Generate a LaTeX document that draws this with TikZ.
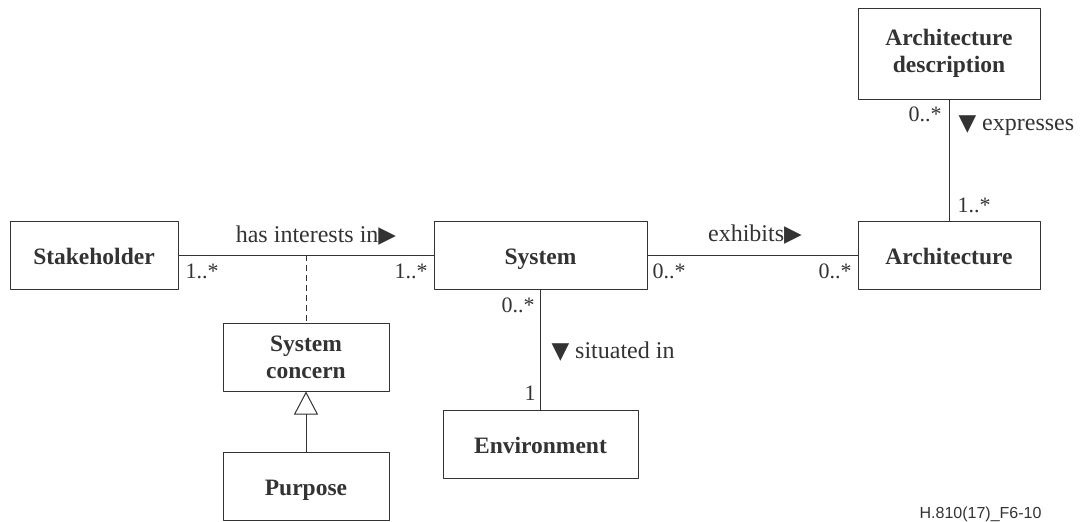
\documentclass[tikz,border=0pt]{standalone}
\usepackage{fontspec}
\setmainfont{Liberation Serif}
\newfontfamily\symfont{DejaVu Sans}
\newfontfamily\tagfont{Liberation Sans}
\usetikzlibrary{arrows.meta}
\definecolor{ink}{gray}{0.2}
\newcommand{\tri}[1]{{\symfont\fontsize{23}{23}\selectfont #1}}
\begin{document}
\begin{tikzpicture}[x=1pt,y=-1pt,line join=round,line width=1pt,draw=ink,text=ink]
    \tikzset{box/.style={draw,fill=white,align=center,inner sep=0pt,
            font=\fontsize{23.5}{27}\selectfont\bfseries,minimum height=68pt},
        oneline/.style={text height=19pt,text depth=1pt},
        mult/.style={inner sep=0pt,font=\fontsize{22}{22}\selectfont},
        assoc/.style={inner sep=0pt,font=\fontsize{24}{24}\selectfont}}
    \useasboundingbox (0,0) rectangle (1082,522);
    % classes
    \node[box,oneline,minimum width=168pt] (stake) at (94,255) {Stakeholder};
    \node[box,oneline,minimum width=213pt] (sys) at (540.5,255) {System};
    \node[box,oneline,minimum width=182pt] (arch) at (949,255) {Architecture};
    \node[box,minimum width=182pt,minimum height=91pt] (archdesc) at (949,53.5) {Architecture\\description};
    \node[box,minimum width=166pt] (concern) at (306,357) {System\\concern};
    \node[box,oneline,minimum width=166pt] (purpose) at (306,486) {Purpose};
    \node[box,oneline,minimum width=195pt] (env) at (540.5,444) {Environment};
    % associations
    \coordinate (assoc) at (306,255);
    \draw (stake.east) -- (sys.west);
    \draw[dash pattern=on 6pt off 4pt] (assoc) -- (concern.north);
    \draw[-{Triangle[open,length=23pt,width=24pt]}] (purpose.north) -- (concern.south);
    \draw (sys.east) -- (arch.west);
    \draw (sys.south) -- (env.north);
    \draw (archdesc.south) -- (arch.north);
    % labels
    \node[assoc,anchor=base] (hasint) at (316,242) {has interests in\tri{▶}};
    \node[assoc,anchor=base] (exhib) at (755,241) {exhibits\tri{▶}};
    \node[assoc,anchor=base west] (expr) at (958,130) {\tri{▼} expresses};
    \node[assoc,anchor=base west] (situ) at (551,358) {\tri{▼} situated in};
    \node[mult,anchor=west] (m1) at (185,271) {1..*};
    \node[mult,anchor=east] (m2) at (428,271) {1..*};
    \node[mult,anchor=west] (m3) at (652,271) {0..*};
    \node[mult,anchor=east] (m4) at (852,271) {0..*};
    \node[mult,anchor=east] (m5) at (535,305) {0..*};
    \node[mult,anchor=east] (m6) at (536,393) {1};
    \node[mult,anchor=east] (m7) at (942,114) {0..*};
    \node[mult,anchor=west] (m8) at (957,205) {1..*};
    \node[inner sep=0pt,anchor=base east,font=\tagfont\fontsize{16}{16}\selectfont] (tag) at (1042,518) {H.810(17)\_F6-10};
\end{tikzpicture}
\end{document}
